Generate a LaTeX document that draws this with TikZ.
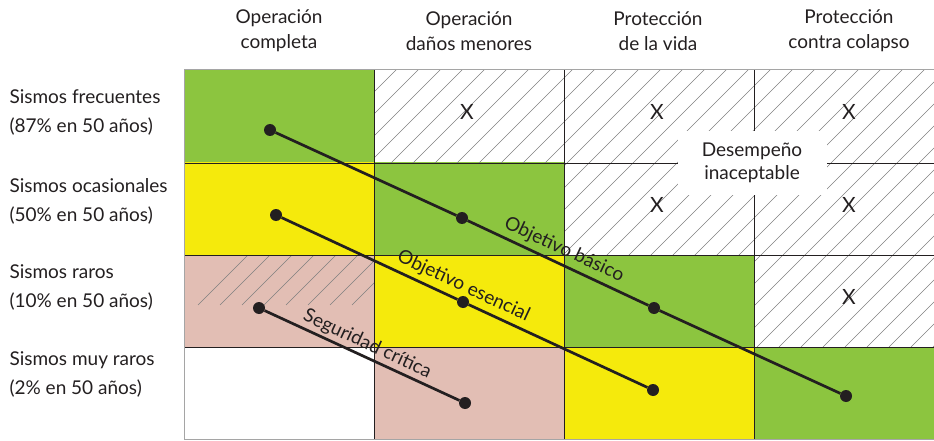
\documentclass[tikz,border=0pt]{standalone}
\usepackage{fontspec}
\setmainfont{Lato}
\definecolor{verde}{RGB}{140,197,63}
\definecolor{amarillo}{RGB}{245,234,12}
\definecolor{rosa}{RGB}{226,190,180}
\definecolor{borde}{RGB}{165,165,165}
\definecolor{tinta}{RGB}{35,31,32}
\tikzset{
  punto/.style={circle,fill=tinta,inner sep=0pt,minimum size=12pt},
  objetivo/.style={line width=2.7pt,tinta},
  rotulo/.style={font=\fontsize{19}{25}\selectfont,text=tinta,align=center},
  fila/.style={font=\fontsize{19}{29}\selectfont,text=tinta,align=left,anchor=west},
  marca/.style={font=\fontsize{21}{21}\selectfont,text=tinta},
  rayado/.style={gray,line width=0.5pt},
  linea/.style={tinta,line width=0.8pt}
}
\begin{document}
\begin{tikzpicture}[x=1pt,y=-1pt]
\useasboundingbox (0,0) rectangle (934,441);

% Celdas de color
\foreach \c/\r/\col in {0/0/verde,0/1/amarillo,1/1/verde,0/2/rosa,1/2/amarillo,2/2/verde,1/3/rosa,2/3/amarillo,3/3/verde}
  \fill[\col] ({184+190*\c},{70+92.25*\r}) rectangle ++(190,92.25);

% Zona rayada
\begin{scope}
  \clip (374,70) -- (934,70) -- (934,347) -- (754,347) -- (754,255) -- (564,255) -- (564,163) -- (374,163) -- cycle;
  \foreach \i in {0,...,38}
    \draw[rayado] ({97+22*\i},347) -- ++(280,-280);
\end{scope}
\begin{scope}
  \clip (184,255) rectangle (374,347);
  \foreach \i in {0,...,7}
    \draw[rayado] ({198+22*\i},305) -- ++(50,-50);
\end{scope}

% Reticula
\foreach \x in {374,564,754}
  \draw[linea] (\x,70) -- (\x,439);
\foreach \y in {163,255,347}
  \draw[linea] (184,\y) -- (934,\y);
\draw[borde,line width=1pt] (934,70) -- (184,70) -- (184,439) -- (934,439);

% Encabezados
\node[rotulo] (h1) at (279,31) {Operación\\completa};
\node[rotulo] (h2) at (469,31) {Operación\\daños menores};
\node[rotulo] (h3) at (658,31) {Protección\\de la vida};
\node[rotulo] (h4) at (849,31) {Protección\\contra colapso};

% Filas
\node[fila] (f1) at (6,112) {Sismos frecuentes\\(87\% en 50 años)};
\node[fila] (f2) at (6,201) {Sismos ocasionales\\(50\% en 50 años)};
\node[fila] (f3) at (6,287) {Sismos raros\\(10\% en 50 años)};
\node[fila] (f4) at (6,374) {Sismos muy raros\\(2\% en 50 años)};

% Marcas
\node[marca] (x12) at (467,112) {X};
\node[marca] (x13) at (657,112) {X};
\node[marca] (x14) at (849,112) {X};
\node[marca] (x23) at (657,205) {X};
\node[marca] (x24) at (849,205) {X};
\node[marca] (x34) at (849,297) {X};

\node[rotulo,fill=white,minimum width=149pt,minimum height=63pt,inner sep=0pt] (inac) at (752,163) {Desempeño\\[-2pt]inaceptable};

% Objetivos
\node[punto] (b1) at (270,130) {};
\node[punto] (b2) at (462,218) {};
\node[punto] (b3) at (654,308) {};
\node[punto] (b4) at (846,396) {};
\node[punto] (e1) at (276,215) {};
\node[punto] (e2) at (463,302) {};
\node[punto] (e3) at (653,390) {};
\node[punto] (s1) at (259,308) {};
\node[punto] (s2) at (465,403) {};

\draw[objetivo] (b1) -- (b2) -- node[rotulo,sloped,above=1pt] {Objetivo básico} (b3) -- (b4);
\draw[objetivo] (e1) -- node[rotulo,pos=1,sloped,above=1pt] {Objetivo esencial} (e2) -- (e3);
\draw[objetivo] (s1) -- node[rotulo,sloped,above=-1pt] {Seguridad crítica} (s2);
\end{tikzpicture}
\end{document}
